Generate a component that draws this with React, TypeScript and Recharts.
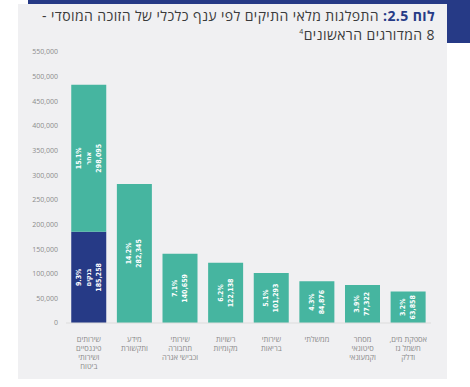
import { Bar, BarChart, LabelList, XAxis, YAxis } from 'recharts';

// ענפי הכלכלה, שורה לכל שורת תווית
const categories = [
  ['שירותים', 'פיננסיים', 'ושירותי', 'ביטוח'],
  ['מידע', 'ותקשורת'],
  ['שירותי', 'תחבורה', 'וכבישי אגרה'],
  ['רשויות', 'מקומיות'],
  ['שירותי', 'בריאות'],
  ['ממשלתי'],
  ['מסחר', 'סיטונאי', 'וקמעונאי'],
  ['אספקת מים,', 'חשמל גז', 'ודלק'],
];

// בנקים - רק בענף הפיננסי
const bankValues = [185258, null, null, null, null, null, null, null];
const bankShares = ['9.3%', '', '', '', '', '', '', ''];
const bankNames = ['בנקים', '', '', '', '', '', '', ''];

const otherValues = [298095, 282345, 140659, 122138, 101293, 84876, 77322, 63858];
const otherShares = ['15.1%', '14.2%', '7.1%', '6.2%', '5.1%', '4.3%', '3.9%', '3.2%'];
const otherNames = ['אחר', '', '', '', '', '', '', ''];

const yTicks = [0, 50000, 100000, 150000, 200000, 250000, 300000, 350000, 400000, 450000, 500000, 550000];

const NAVY = '#263a86';
const TEAL = '#46b5a0';
const PANEL = '#f0f0f2';

const chartData = categories.map((lines, i) => ({
  name: lines.join(' '),
  banks: bankValues[i],
  other: otherValues[i],
}));

const fmt = (v: number) => v.toLocaleString('en-US');

function rotatedLabel(shares: string[], names: string[]) {
  return (props: any) => {
    const { x, y, width, height, index, value } = props;
    if (value == null || value === 0) return null;
    const lines = [shares[index], names[index], fmt(Number(value))].filter(Boolean);
    const cx = Number(x) + Number(width) / 2;
    const cy = Number(y) + Number(height) / 2;
    const step = 10;
    return (
      <g>
        {lines.map((line, i) => {
          const lx = cx + (i - (lines.length - 1) / 2) * step;
          return (
            <text
              key={i}
              x={lx}
              y={cy}
              transform={`rotate(-90 ${lx} ${cy})`}
              textAnchor="middle"
              dominantBaseline="central"
              fill="#ffffff"
              fontSize={7}
              fontWeight={600}
              fontFamily="'Liberation Sans Narrow', 'DejaVu Sans Condensed', Roboto, sans-serif"
            >
              {line}
            </text>
          );
        })}
      </g>
    );
  };
}

function CategoryTick(props: any) {
  const { x, y, index } = props;
  const lines = categories[index] || [];
  return (
    <g>
      {lines.map((line, i) => (
        <text
          key={i}
          x={x}
          y={y + 11 + i * 9}
          textAnchor="middle"
          direction="rtl"
          fill="#8a8a8a"
          fontSize={7.5}
          fontFamily="'Open Sans', 'DejaVu Sans', sans-serif"
        >
          {line}
        </text>
      ))}
    </g>
  );
}

export default function App() {
  return (
    <div
      style={{
        position: 'absolute',
        left: 0,
        top: 0,
        width: 470,
        height: 387,
        background: '#ffffff',
        overflow: 'hidden',
      }}
    >
      <div style={{ position: 'absolute', left: 18, top: 4, width: 429, height: 375, background: PANEL }} />
      <div style={{ position: 'absolute', left: 28, top: 0, width: 442, height: 4, background: NAVY }} />
      <div style={{ position: 'absolute', left: 447, top: 0, width: 23, height: 43, background: NAVY }} />
      <div
        style={{
          position: 'absolute',
          right: 35,
          top: 8,
          width: 420,
          direction: 'rtl',
          textAlign: 'right',
          fontFamily: "'Open Sans', 'DejaVu Sans', sans-serif",
          fontSize: 14,
          letterSpacing: 0.4,
          lineHeight: '16px',
          color: '#3a3a3a',
          whiteSpace: 'nowrap',
        }}
      >
        <span style={{ color: NAVY, fontWeight: 700 }}>לוח 2.5:</span> התפלגות מלאי התיקים לפי ענף כלכלי של הזוכה המוסדי -
        <br />8 המדורגים הראשונים<sup style={{ fontSize: 7 }}>4</sup>
      </div>
      <div style={{ position: 'absolute', left: 0, top: 0 }}>
        <BarChart
          width={470}
          height={387}
          data={chartData}
          margin={{ top: 52, right: 39, bottom: 0, left: 6 }}
          barCategoryGap="11.5%"
        >
          <XAxis
            dataKey="name"
            interval={0}
            tickLine={false}
            axisLine={{ stroke: '#dcdcdc' }}
            tick={<CategoryTick />}
            height={64}
          />
          <YAxis
            width={60}
            domain={[0, 550000]}
            ticks={yTicks}
            interval={0}
            tickLine={false}
            axisLine={false}
            tickFormatter={fmt}
            tick={{ fill: '#8c8c8c', fontSize: 7, fontFamily: "'Open Sans', 'DejaVu Sans', sans-serif" }}
          />
          <Bar dataKey="banks" stackId="a" fill={NAVY} isAnimationActive={false}>
            <LabelList dataKey="banks" content={rotatedLabel(bankShares, bankNames)} />
          </Bar>
          <Bar dataKey="other" stackId="a" fill={TEAL} isAnimationActive={false}>
            <LabelList dataKey="other" content={rotatedLabel(otherShares, otherNames)} />
          </Bar>
        </BarChart>
      </div>
    </div>
  );
}
